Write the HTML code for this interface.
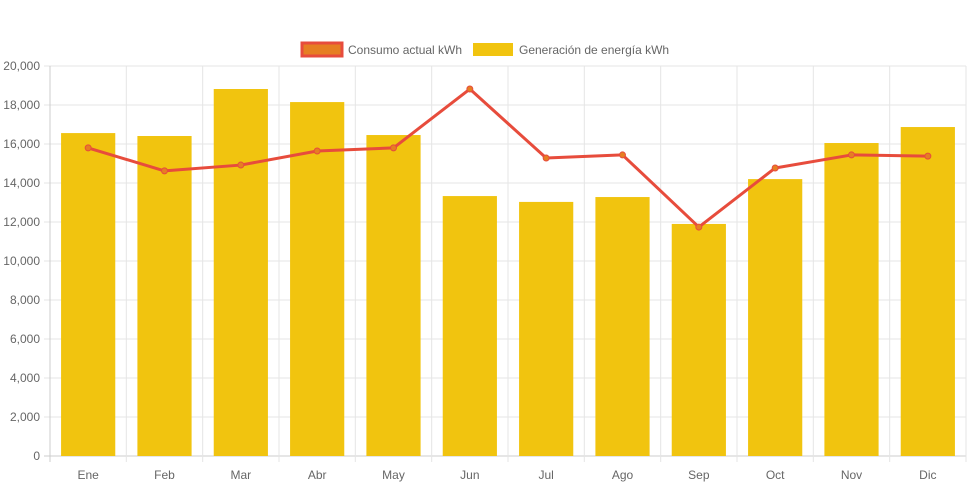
<!DOCTYPE html>
<html><head><meta charset="utf-8">
<style>
body{margin:0;background:#fff;}
svg{display:block;font-family:"Liberation Sans",Arial,sans-serif;}
</style></head>
<body>
<svg id="chart" width="971" height="485" viewBox="0 0 971 485">
<g id="grid"></g>
<g id="bars"></g>
<g id="line"></g>
<g id="axes"></g>
<g>
<g>
<rect x="302" y="43" width="40" height="13" fill="#e67e22" stroke="#e74c3c" stroke-width="3"/>
<text x="348" y="54" font-size="12" fill="#666">Consumo actual kWh</text>
</g>
<g>
<rect x="473" y="43" width="40" height="13" fill="#f1c40f"/>
<text x="519" y="54" font-size="12" fill="#666">Generación de energía kWh</text>
</g>
</g>
</svg>
<script>
const categories=["Ene","Feb","Mar","Abr","May","Jun","Jul","Ago","Sep","Oct","Nov","Dic"];
const generation=[16560,16410,18820,18150,16460,13330,13030,13280,11900,14200,16050,16870];
const consumption=[15800,14620,14920,15640,15800,18820,15280,15440,11740,14770,15440,15380];
const yTicks=[0,2000,4000,6000,8000,10000,12000,14000,16000,18000,20000];
const NS="http://www.w3.org/2000/svg";
const L=50,R=966,T=66,B=456,yMax=20000;
const step=(R-L)/categories.length;
const x=i=>L+step*(i+0.5);
const y=v=>B-(v/yMax)*(B-T);
function mk(tag,attrs,parent){const e=document.createElementNS(NS,tag);for(const k in attrs)e.setAttribute(k,attrs[k]);parent.appendChild(e);return e;}
const grid=document.getElementById('grid'),axes=document.getElementById('axes'),bars=document.getElementById('bars'),line=document.getElementById('line');
yTicks.forEach(t=>{
 const g=mk('line',{x1:L-6,x2:R,y1:y(t),y2:y(t),stroke:t===0?'#ccc':'#e5e5e5','stroke-width':1},grid);
 
 
 const lb=mk('text',{x:L-10,y:y(t)+4,'text-anchor':'end','font-size':12,fill:'#666'},axes);
 lb.textContent=t.toLocaleString('en-US');
 
 
});
for(let i=0;i<=categories.length;i++){
 const g=mk('line',{x1:L+step*i,x2:L+step*i,y1:T,y2:B+6,stroke:i===0?'#ccc':'#e5e5e5','stroke-width':1},grid);
 
 
}
categories.forEach((c,i)=>{
 const lb=mk('text',{x:x(i),y:B+23,'text-anchor':'middle','font-size':12,fill:'#666'},axes);
 lb.textContent=c;
 
 
});
const bw=step*0.71;
generation.forEach((v,i)=>{
 const r=mk('rect',{x:x(i)-bw/2,y:y(v),width:bw,height:B-y(v),fill:'#f1c40f'},bars);
 
 
});
const pts=consumption.map((v,i)=>x(i)+','+y(v)).join(' ');
const pl=mk('polyline',{points:pts,fill:'none',stroke:'#e74c3c','stroke-width':3,'stroke-linejoin':'round'},line);


consumption.forEach((v,i)=>{
 const c=mk('circle',{cx:x(i),cy:y(v),r:3,fill:'#e67e22',stroke:'#e74c3c','stroke-width':1},line);
 
 
});
</script>
</body></html>
